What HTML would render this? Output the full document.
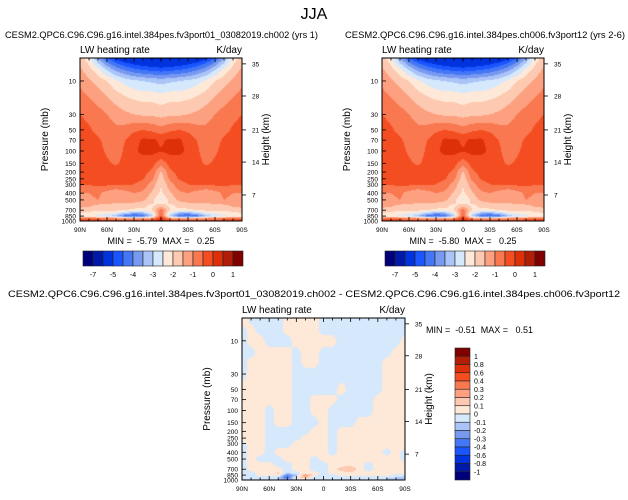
<!DOCTYPE html>
<html><head><meta charset="utf-8">
<style>
html,body{margin:0;padding:0;background:#fff;}
#wrap{position:relative;width:628px;height:500px;overflow:hidden;font-family:"Liberation Sans",Arial,sans-serif;}
canvas{position:absolute;}
svg{position:absolute;left:0;top:0;}
text{white-space:pre;}
</style></head>
<body>
<div id="wrap">
<canvas id="c1" width="162" height="163" style="left:80px;top:58px"></canvas>
<canvas id="c2" width="162" height="163" style="left:382px;top:58px"></canvas>
<canvas id="c3" width="163" height="162" style="left:242px;top:318px"></canvas>
<svg id="ov" width="628" height="500"></svg>
</div>
<script>
// ---- data ----
const lats = [90,80,70,60,50,40,30,20,10,0,-10,-20,-30,-40,-50,-60,-70,-80,-90];
const levels = [4.7,7,10,15,20,30,50,70,100,150,200,250,300,400,500,600,700,800,850,925,1000];
const fieldMean = [
[-1.8,-2.3,-3.5,-4.5,-5.2,-5.6,-5.8,-6,-6.1,-6.2,-6.1,-6,-5.8,-5.6,-5.2,-4.5,-3.5,-2.3,-1.8],
[-1.4,-1.8,-2.3,-3,-3.6,-4,-4.3,-4.5,-4.6,-4.7,-4.6,-4.5,-4.3,-4,-3.6,-3,-2.3,-1.8,-1.4],
[-1.1,-1.4,-1.7,-2.0,-2.4,-2.7,-2.9,-3.0,-3.1,-3.2,-3.1,-3.0,-2.9,-2.7,-2.4,-2.0,-1.7,-1.4,-1.1],
[-0.9,-1.1,-1.3,-1.6,-1.9,-2.1,-2.3,-2.4,-2.4,-2.5,-2.4,-2.4,-2.3,-2.1,-1.9,-1.6,-1.3,-1.1,-0.9],
[-0.7,-0.9,-1.1,-1.3,-1.6,-1.8,-1.9,-2.0,-2.0,-2.1,-2.0,-2.0,-1.9,-1.8,-1.6,-1.3,-1.1,-0.9,-0.7],
[-0.5,-0.6,-0.8,-1.0,-1.2,-1.4,-1.5,-1.6,-1.6,-1.7,-1.6,-1.6,-1.5,-1.4,-1.2,-1.0,-0.8,-0.6,-0.5],
[-0.35,-0.45,-0.6,-0.75,-0.9,-0.8,-0.6,-0.5,-0.6,-0.8,-0.6,-0.5,-0.6,-0.8,-0.9,-0.75,-0.6,-0.45,-0.35],
[-0.3,-0.35,-0.45,-0.6,-0.7,-0.5,-0.2,0.1,0.1,-0.1,0.1,0.1,-0.2,-0.5,-0.7,-0.6,-0.45,-0.35,-0.3],
[-0.3,-0.3,-0.4,-0.55,-0.65,-0.45,-0.1,0.15,0.15,0.05,0.15,0.15,-0.1,-0.45,-0.65,-0.55,-0.4,-0.3,-0.3],
[-0.3,-0.3,-0.35,-0.45,-0.55,-0.4,-0.3,-0.3,-0.3,-0.8,-0.3,-0.3,-0.3,-0.4,-0.55,-0.45,-0.35,-0.3,-0.3],
[-0.25,-0.25,-0.25,-0.25,-0.3,-0.3,-0.3,-0.35,-0.6,-1.6,-0.6,-0.35,-0.3,-0.3,-0.3,-0.25,-0.25,-0.25,-0.25],
[-0.3,-0.3,-0.3,-0.3,-0.3,-0.3,-0.35,-0.45,-0.9,-1.8,-0.9,-0.45,-0.35,-0.3,-0.3,-0.3,-0.3,-0.3,-0.3],
[-0.45,-0.45,-0.4,-0.4,-0.4,-0.45,-0.5,-0.7,-1.2,-2.0,-1.2,-0.7,-0.5,-0.45,-0.4,-0.4,-0.4,-0.45,-0.45],
[-1.0,-1.0,-0.9,-1.2,-1.5,-1.2,-1.0,-1.1,-1.6,-2.1,-1.6,-1.1,-1.0,-1.2,-1.5,-1.2,-0.9,-1.0,-1.0],
[-1.1,-1.1,-1.0,-1.2,-1.4,-1.3,-1.2,-1.4,-1.8,-2.6,-1.8,-1.4,-1.2,-1.3,-1.4,-1.2,-1.0,-1.1,-1.1],
[-1.3,-1.4,-1.6,-1.6,-1.6,-1.7,-1.8,-1.9,-2.1,-1.8,-2.1,-1.9,-1.8,-1.7,-1.6,-1.6,-1.6,-1.4,-1.3],
[-1.7,-1.8,-1.9,-1.9,-1.9,-2.0,-2.1,-2.1,-2.0,-0.8,-2.0,-2.1,-2.1,-2.0,-1.9,-1.9,-1.9,-1.8,-1.7],
[-2.1,-2.3,-2.4,-2.5,-2.8,-3.5,-4,-3.8,-2.8,-0.6,-2.8,-3.8,-4,-3.5,-2.8,-2.5,-2.4,-2.3,-2.1],
[-2.3,-2.4,-2.6,-2.9,-3.3,-4.3,-4.6,-4.3,-3,-0.4,-3,-4.3,-4.6,-4.3,-3.3,-2.9,-2.6,-2.4,-2.3],
[-0.6,-0.6,-0.7,-0.8,-0.9,-1,-1.1,-1.1,-0.9,0.2,-0.9,-1.1,-1.1,-1,-0.9,-0.8,-0.7,-0.6,-0.6],
[-0.2,-0.1,-0.1,-0.1,-0.1,-0.2,-0.1,-0.1,-0.1,0.3,-0.1,-0.1,-0.1,-0.2,-0.1,-0.1,-0.1,-0.1,-0.2]
];
const fieldDiff = [
[0.12,-0.05,-0.05,-0.05,-0.05,0.05,0.05,0.05,0.05,-0.05,-0.05,-0.05,-0.05,-0.05,-0.05,-0.05,-0.05,-0.05,-0.05],
[-0.05,0.05,-0.05,-0.05,-0.05,0.05,0.05,0.05,0.05,-0.05,-0.05,-0.05,-0.05,-0.05,-0.05,-0.05,-0.05,-0.05,-0.05],
[-0.05,0.05,0.05,-0.05,-0.05,-0.05,0.05,0.05,0.05,0.05,0.05,-0.05,-0.05,-0.05,-0.05,-0.05,-0.05,-0.05,0.05],
[-0.05,-0.05,0.05,0.05,0.05,0.05,-0.05,0.05,0.05,-0.05,-0.05,-0.05,-0.05,-0.05,-0.05,-0.05,-0.05,0.05,0.05],
[-0.05,0.05,0.05,0.05,0.05,0.05,-0.05,0.05,0.05,-0.05,-0.05,-0.05,-0.05,-0.05,-0.05,-0.05,0.05,0.05,0.05],
[-0.05,0.05,0.05,0.05,0.05,0.05,-0.05,-0.05,-0.05,-0.05,-0.05,-0.05,-0.05,-0.05,-0.05,-0.05,0.05,0.05,0.05],
[0.05,0.05,0.05,0.05,0.05,0.05,-0.05,-0.05,-0.05,-0.05,-0.05,0.05,-0.05,-0.05,-0.05,-0.05,0.05,0.05,0.05],
[0.05,0.05,0.05,0.05,0.05,0.05,-0.05,-0.05,0.05,0.05,0.05,-0.05,-0.05,-0.05,-0.05,0.05,0.05,0.05,0.05],
[0.05,0.05,0.05,-0.05,0.05,0.05,-0.05,-0.05,0.05,0.05,-0.05,-0.05,-0.05,-0.05,-0.05,0.05,0.05,0.05,0.05],
[0.05,0.05,0.05,-0.05,0.05,0.05,-0.05,-0.05,-0.05,0.05,-0.05,-0.05,-0.05,0.05,0.05,0.05,0.05,0.05,0.05],
[0.05,0.05,0.05,-0.05,-0.05,-0.05,-0.05,-0.05,0.05,0.05,-0.05,0.05,0.05,0.05,0.05,0.05,0.05,0.05,0.05],
[0.05,0.05,0.05,-0.05,-0.05,-0.05,-0.05,0.05,0.05,0.05,-0.05,0.05,0.05,0.05,0.05,0.05,0.05,0.05,0.05],
[-0.05,0.05,0.05,-0.05,-0.05,-0.05,0.05,0.05,0.05,0.05,-0.05,0.05,0.05,0.05,0.05,0.05,0.05,0.05,0.05],
[-0.05,0.05,0.05,-0.05,0.05,0.05,0.05,0.05,0.05,0.05,-0.05,0.05,0.05,0.05,0.05,0.05,-0.05,0.05,-0.05],
[-0.05,0.05,-0.05,-0.05,-0.05,0.05,0.05,0.05,-0.05,0.05,0.05,0.05,0.05,0.05,0.05,0.05,0.05,0.05,-0.05],
[-0.05,0.05,0.05,0.05,-0.05,-0.05,0.05,0.05,-0.05,-0.05,0.05,0.05,0.05,0.05,-0.05,0.05,0.05,0.05,0.05],
[-0.05,0.05,0.05,0.05,0.05,-0.05,0.05,0.05,-0.05,-0.05,0.05,0.15,0.2,0.05,-0.05,0.05,0.05,0.05,0.05],
[-0.05,-0.05,0.05,0.05,0.12,-0.1,-0.05,0.05,0.05,-0.05,0.05,0.05,0.05,0.05,0.05,0.05,0.05,0.05,0.05],
[-0.05,-0.05,0.05,0.05,0.05,-0.3,-0.15,0.3,0.05,-0.05,-0.05,0.05,0.05,0.05,0.05,0.05,0.05,-0.05,-0.05],
[-0.1,-0.1,-0.1,-0.1,-0.1,-0.4,0.05,0.2,-0.1,-0.1,-0.1,-0.1,-0.1,-0.1,-0.1,-0.1,-0.1,-0.1,-0.15],
[-0.1,-0.1,-0.1,-0.1,-0.1,-0.15,-0.1,-0.1,-0.1,-0.1,-0.1,-0.1,-0.1,-0.1,-0.1,-0.1,-0.1,-0.15,-0.15]
];
const meanLevels = [-7,-6,-5,-4.5,-4,-3.5,-3,-2.5,-2,-1.5,-1,-0.5,0,0.5,1];
const meanLabels = ["-7","-5","-4","-3","-2","-1","0","1"];
const diffLevels = [-1,-0.8,-0.6,-0.4,-0.3,-0.2,-0.1,0,0.1,0.2,0.3,0.4,0.6,0.8,1];
const diffLabels = ["-1","-0.8","-0.6","-0.4","-0.3","-0.2","-0.1","0","0.1","0.2","0.3","0.4","0.6","0.8","1"];
const palette = ["#00007a","#0019a8","#0033dd","#1a55ff","#4477f5","#7799f0","#aac4f8","#d5e8fc","#fee8d8","#fdc9b0","#fca080","#f97850","#f54d22","#de3008","#b01e08","#800000"];
const pTicks = [10,30,50,70,100,150,200,250,300,400,500,700,850,1000];
const hTicks = [7,14,21,28,35];
const hTickP = [425,144,50,16.4,5.7];
const xTicks = ["90N","60N","30N","0","30S","60S","90S"];

function hex(c){return [parseInt(c.substr(1,2),16),parseInt(c.substr(3,2),16),parseInt(c.substr(5,2),16)];}
function colorIdx(v,lv){let i=0;while(i<lv.length&&v>=lv[i])i++;return i;}
function interp(field,latF,lp){
  const lls=levels.map(Math.log10);
  let r=0;while(r<lls.length-2&&lp>lls[r+1])r++;
  let t=(lp-lls[r])/(lls[r+1]-lls[r]);t=Math.max(0,Math.min(1,t));
  let c=Math.min(Math.floor(latF),lats.length-2);let s=latF-c;
  const a=field[r][c]*(1-s)+field[r][c+1]*s;
  const b=field[r+1][c]*(1-s)+field[r+1][c+1]*s;
  return a*(1-t)+b*t;
}
function drawField(id,field,lv,pTop){
  const cv=document.getElementById(id),ctx=cv.getContext('2d');
  const W=cv.width,H=cv.height,img=ctx.createImageData(W,H);
  const l0=Math.log10(pTop),l1=3;
  const pal=palette.map(hex);
  for(let y=0;y<H;y++){const lp=l0+(l1-l0)*(y+0.5)/H;
    for(let x=0;x<W;x++){const lf=(x+0.5)/W*(lats.length-1);
      const v=interp(field,lf,lp);const c=pal[colorIdx(v,lv)];
      const k=(y*W+x)*4;img.data[k]=c[0];img.data[k+1]=c[1];img.data[k+2]=c[2];img.data[k+3]=255;}}
  ctx.putImageData(img,0,0);
}
const svg=document.getElementById('ov');const NS='http://www.w3.org/2000/svg';
function el(tag,attrs,txt){const e=document.createElementNS(NS,tag);for(const k in attrs)e.setAttribute(k,attrs[k]);if(txt!==undefined)e.textContent=txt;svg.appendChild(e);return e;}
function text(x,y,s,size,anchor,name,rot,len){const e=el('text',{x:x,y:y,'font-size':size,'text-anchor':anchor||'start','font-family':'Liberation Sans, Arial, sans-serif',fill:'#000'},s);
  if(rot)e.setAttribute('transform','rotate(-90 '+x+' '+y+')');
  if(len){e.setAttribute('textLength',len);e.setAttribute('lengthAdjust','spacingAndGlyphs');}
  
  return e;}
function axes(px,py,w,h,pTop,tag){
  const yOf=p=>py+h*(Math.log10(p)-Math.log10(pTop))/(3-Math.log10(pTop));
  const xOf=lat=>px+w*(90-lat)/180;
  const r=el('rect',{x:px,y:py,width:w,height:h,fill:'none',stroke:'#000','stroke-width':1});
  
  
  pTicks.forEach(p=>{const y=yOf(p);el('line',{x1:px,x2:px+4,y1:y,y2:y,stroke:'#000','stroke-width':0.8});
    text(px-4,y+2.5,String(p),6.5,'end',tag+'-pressure-tick-label');});
  hTicks.forEach((z,i)=>{const y=yOf(hTickP[i]);el('line',{x1:px+w,x2:px+w+4,y1:y,y2:y,stroke:'#000','stroke-width':0.8});
    text(px+w+10,y+2.5,String(z),6.5,'start',tag+'-height-tick-label');});
  for(let lat=90;lat>=-90;lat-=10){const x=xOf(lat);const big=lat%30===0;const L=big?4:2.5;
    el('line',{x1:x,x2:x,y1:py+h,y2:py+h-L,stroke:'#000','stroke-width':0.8});
    el('line',{x1:x,x2:x,y1:py,y2:py+L,stroke:'#000','stroke-width':0.8});}
  xTicks.forEach((s,i)=>text(xOf(90-30*i),py+h+11,s,6.5,'middle',tag+'-lat-tick-label'));
  text(px,py-5,'LW heating rate',10,'start',tag+'-variable-label');
  text(px+w,py-5,'K/day',10,'end',tag+'-units-label');
  text(px-32,py+h/2,'Pressure (mb)',10,'middle',tag+'-y-axis-title',true);
  text(px+w+27,py+h/2,'Height (km)',10,'middle',tag+'-y2-axis-title',true);
}
function hbar(x,y,w,h,n,tag){const bw=w/n;
  for(let i=0;i<n;i++){const r=el('rect',{x:x+i*bw,y:y,width:bw,height:h,fill:palette[i],stroke:'#222','stroke-width':0.6});
    
    }
  meanLabels.forEach((s,i)=>text(x+bw*(1+2*i),y+h+11,s,7,'middle',tag+'-colorbar-label'));
}
function vbar(x,y,w,h,n){const bh=h/n;
  for(let i=0;i<n;i++){const r=el('rect',{x:x,y:y+i*bh,width:w,height:bh,fill:palette[n-1-i],stroke:'#222','stroke-width':0.6});
    
    }
  const k=diffLabels.length;
  diffLabels.forEach((s,i)=>text(x+w+4,y+bh*(k-i)+2.5,s,7,'start','diff-colorbar-label'));
}
drawField('c1',fieldMean,meanLevels,4.7);
drawField('c2',fieldMean,meanLevels,4.7);
drawField('c3',fieldDiff,diffLevels,4.7);
text(314,19,'JJA',16,'middle','figure-title');
text(5,38,'CESM2.QPC6.C96.C96.g16.intel.384pes.fv3port01_03082019.ch002 (yrs 1)',9.6,'start','panel1-title',false,313);
text(345,38,'CESM2.QPC6.C96.C96.g16.intel.384pes.ch006.fv3port12 (yrs 2-6)',9.6,'start','panel2-title',false,280);
axes(80,58,162,163,4.7,'panel1');
axes(382,58,162,163,4.7,'panel2');
text(161,244,'MIN =  -5.79  MAX =   0.25',9,'middle','panel1-minmax');
text(463,244,'MIN =  -5.80  MAX =   0.25',9,'middle','panel2-minmax');
hbar(83,251,160,15,16,'panel1');
hbar(385,251,160,15,16,'panel2');
text(314,297,'CESM2.QPC6.C96.C96.g16.intel.384pes.fv3port01_03082019.ch002 - CESM2.QPC6.C96.C96.g16.intel.384pes.ch006.fv3port12',9.6,'middle','diff-title',false,612);
axes(242,318,163,162,4.7,'diff');
text(426,333,'MIN =  -0.51  MAX =   0.51',9,'start','diff-minmax');
vbar(455,348,15,132,16);
</script>
</body></html>
